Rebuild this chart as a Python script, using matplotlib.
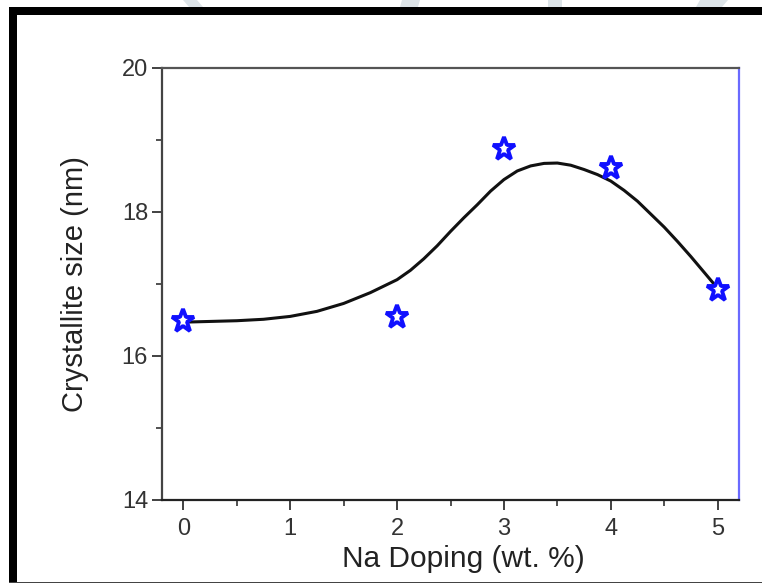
import matplotlib
matplotlib.use("Agg")
import matplotlib.pyplot as plt
from matplotlib.patches import Rectangle, Polygon
from matplotlib.ticker import MultipleLocator

plt.rcParams['font.family'] = ['Liberation Sans', 'DejaVu Sans']

# Measured data points
na_doping = [0, 2, 3, 4, 5]
crystallite = [16.48, 16.54, 18.88, 18.61, 16.92]

# Fit curve
curve_x = [0, 0.25, 0.5, 0.75, 1.0, 1.25, 1.5, 1.75,
           2.0, 2.125, 2.25, 2.375, 2.5, 2.625, 2.75, 2.875,
           3.0, 3.125, 3.25, 3.375, 3.5, 3.625, 3.75, 3.875,
           4.0, 4.125, 4.25, 4.375, 4.5, 4.625, 4.75, 4.875, 5.0]
curve_y = [16.47, 16.48, 16.49, 16.51, 16.55, 16.62, 16.73, 16.88,
           17.06, 17.19, 17.35, 17.53, 17.73, 17.92, 18.10, 18.29,
           18.45, 18.57, 18.64, 18.675, 18.68, 18.65, 18.59, 18.52,
           18.43, 18.30, 18.15, 17.97, 17.79, 17.59, 17.38, 17.16, 16.94]

x_ticks = [0, 1, 2, 3, 4, 5]
y_ticks = [14, 16, 18, 20]

fig = plt.figure(figsize=(7.62, 5.84), dpi=100)

# faint watermark shapes at the very top
wm = '#dde4e8'
for pts in [[(183, 0), (197, 0), (203, 7), (189, 7)],
            [(402, 0), (420, 0), (418, 7), (400, 7)],
            [(548, 0), (562, 0), (562, 7), (548, 7)],
            [(700, 0), (728, 0), (722, 7), (696, 7)]]:
    fig.patches.append(Polygon([(x / 762, 1 - y / 584) for x, y in pts],
                               closed=True, transform=fig.transFigure,
                               facecolor=wm, edgecolor='none', zorder=0))

# black frame (top and left), thin bottom line
fig.patches.append(Rectangle((9 / 762, 1 - 15 / 584), 1, 8 / 584,
                             transform=fig.transFigure, facecolor='black',
                             edgecolor='none', zorder=1))
fig.patches.append(Rectangle((9 / 762, 1 - 582 / 584), 8 / 762, (582 - 7) / 584,
                             transform=fig.transFigure, facecolor='black',
                             edgecolor='none', zorder=1))
fig.patches.append(Rectangle((9 / 762, 1 - 583 / 584), 1, 1.5 / 584,
                             transform=fig.transFigure, facecolor='#444444',
                             edgecolor='none', zorder=1))

ax = fig.add_axes([162 / 762, 1 - 500 / 584, (739 - 162) / 762, (500 - 68) / 584])

ax.plot(curve_x, curve_y, color='#111111', lw=2.2, zorder=2,
        solid_joinstyle='round')
ax.plot(na_doping, crystallite, linestyle='none', marker='*', markersize=17,
        markerfacecolor='white', markeredgecolor='#1010ff', markeredgewidth=2.8, zorder=3)

ax.set_xlim(-0.2, 5.2)
ax.set_ylim(14, 20)
ax.set_xticks(x_ticks)
ax.set_yticks(y_ticks)
ax.xaxis.set_minor_locator(MultipleLocator(0.5))
ax.yaxis.set_minor_locator(MultipleLocator(1))

ax.tick_params(axis='both', which='major', direction='out', length=7, width=1.3,
               labelsize=17, colors='#333333', top=False, right=False)
ax.tick_params(axis='both', which='minor', direction='out', length=4, width=1.2,
               colors='#333333', top=False, right=False)
ax.tick_params(axis='x', pad=6)
ax.tick_params(axis='y', pad=3)

for lbl in ax.get_xticklabels() + ax.get_yticklabels():
    lbl.set_color('#333333')

ax.spines['left'].set_color('#444444')
ax.spines['bottom'].set_color('#222222')
ax.spines['top'].set_color('#555555')
ax.spines['right'].set_color('#6a6aff')
for s in ax.spines.values():
    s.set_linewidth(1.6)

ax.set_xlabel('Na Doping (wt. %)', fontsize=21.5, color='#222222')
ax.xaxis.set_label_coords((463 - 162) / 577, -0.104)
ax.xaxis.label.set_va('top')
ax.set_ylabel('Crystallite size (nm)', fontsize=21, color='#222222')
ax.yaxis.set_label_coords(-(162 - 89) / 577, 0.5)

fig.savefig('out.png', dpi=100)
